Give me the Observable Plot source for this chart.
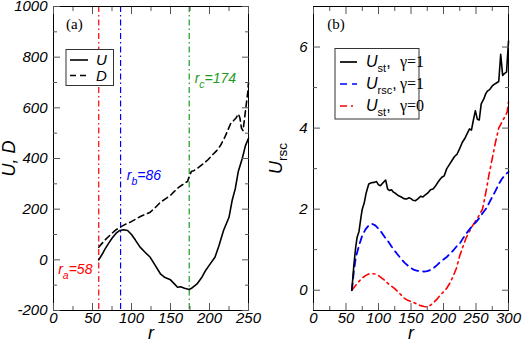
<!DOCTYPE html>
<html><head><meta charset="utf-8">
<script src="https://cdn.jsdelivr.net/npm/d3@7"></script>
<script src="https://cdn.jsdelivr.net/npm/@observablehq/plot@0.6"></script>
<style>
body{margin:0;background:#fff;}
#wrap{position:relative;width:523px;height:341px;overflow:hidden;background:#fff;}
#wrap > svg{position:absolute;top:0;}
</style></head><body><div id="wrap"></div>
<script>
// ---------- Panel (a) data ----------
const aR_U = [58,62,66,70,75,80,85,90,95,100,105,111,118,124,130,137,143,150,155,159,163,168,174,178,184,190,195,200,207,212,218,225,229,233,237,242,246,250];
const aU   = [0,20,42,62,85,104,116,119,116,100,78,50,28,10,-20,-55,-70,-79,-95,-108,-106,-112,-117,-110,-95,-70,-42,-20,10,55,116,168,234,280,350,400,450,480];
const aR_D = [58,65,70,75,80,86,92,98,105,112,118,124,130,137,143,150,155,160,167,172,174,177,180,186,192,198,204,209,214,219,224,227,231,234,237,239,241,243,245,247,249,250];
const aD   = [50,75,90,105,118,130,140,148,160,172,180,188,205,227,240,255,270,285,300,310,330,350,352,365,379,395,415,430,451,480,515,537,550,560,576,560,520,510,560,610,660,700];
const markerR = [58, 86, 174];
const markerColor = ["#ff0000", "#0000ff", "#1c9c1c"];
const markerLabel = ["ra=58", "rb=86", "rc=174"];
const markerLabelX = [6, 94, 181];
const markerLabelY = [-55, 315, 700];
const aXMajor = [0,50,100,150,200,250];
const aXMinor = [25,75,125,175,225];
const aYMajor = [-200,0,200,400,600,800,1000];
const aYMinor = [-100,100,300,500,700,900];

// ---------- Panel (b) data ----------
const bR_st1 = [59,62,65,67,70,73,75,78,81,85,89,93,97,100,103,107,111,114,117,120,123,127,131,135,139,143,147,150,153,157,161,165,168,172,176,180,184,188,193,197,201,205,209,213,217,221,225,229,233,236,240,243,246,249,252,255,258,262,265,268,271,275,278,282,285,288,291,294,297,300];
const bSt1   = [0,0.6,1.07,1.3,1.45,1.8,2.0,2.15,2.4,2.62,2.65,2.66,2.68,2.6,2.58,2.65,2.72,2.5,2.46,2.48,2.42,2.38,2.33,2.3,2.26,2.25,2.28,2.26,2.22,2.21,2.26,2.32,2.3,2.35,2.4,2.48,2.5,2.58,2.7,2.78,2.82,3.0,3.1,3.2,3.3,3.36,3.5,3.65,3.75,3.85,3.98,3.95,4.2,4.43,4.22,4.2,4.6,4.72,4.85,4.92,4.95,5.04,5.08,5.12,5.15,5.82,5.3,5.35,5.38,6.15];
const bR_rsc = [59,62,65,70,75,80,85,90,95,100,105,110,115,120,125,130,135,140,145,150,155,160,165,170,175,180,185,190,195,200,205,210,215,220,225,230,235,240,245,250,255,260,265,270,275,280,285,290,295,300];
const bRsc   = [0,0.45,0.8,1.1,1.35,1.5,1.6,1.64,1.6,1.52,1.42,1.3,1.2,1.08,0.97,0.87,0.77,0.68,0.61,0.55,0.5,0.48,0.47,0.46,0.47,0.5,0.55,0.62,0.7,0.76,0.82,0.9,0.98,1.08,1.15,1.28,1.4,1.5,1.6,1.68,1.78,1.9,2.0,2.15,2.3,2.45,2.62,2.75,2.85,2.92];
const bR_st0 = [59,65,70,75,80,85,90,95,100,105,110,115,120,125,130,135,140,145,150,155,160,165,170,175,180,185,190,195,200,205,210,215,220,225,230,235,240,245,250,255,260,265,270,275,280,285,290,295,298,300];
const bSt0   = [0,0.12,0.22,0.3,0.36,0.4,0.41,0.4,0.36,0.3,0.24,0.16,0.1,0.04,-0.04,-0.12,-0.2,-0.25,-0.28,-0.31,-0.35,-0.38,-0.4,-0.41,-0.37,-0.3,-0.22,-0.12,-0.04,0.05,0.18,0.35,0.55,0.85,1.08,1.3,1.45,1.6,1.72,1.85,2.0,2.4,2.85,3.25,3.65,4.0,4.15,4.3,4.4,4.65];
const bXMajor = [0,50,100,150,200,250,300];
const bXMinor = [25,75,125,175,225,275];
const bYMajor = [0,2,4,6];
const bYMinor = [1,3,5];

const zip = (xs, ys) => xs.map((x, i) => ({r: x, v: ys[i]}));
const H = 341;
const FONT = "'Liberation Sans', Arial, Helvetica, sans-serif";
const SERIF = "'Liberation Serif', 'Times New Roman', serif";
const TICK = "#555";
const fmt = d => String(d);
const blank = () => "";

function axes(xMaj, xMin, yMaj, yMin, xLabel, yLabel, yLabelOffset) {
  return [
    Plot.frame({stroke: "#000", strokeWidth: 1}),
    Plot.axisX({ticks: xMaj, anchor: "bottom", tickSize: -7, tickPadding: 9, stroke: TICK, tickFormat: fmt,
      label: xLabel, labelAnchor: "center", labelArrow: "none", labelOffset: 28}),
    Plot.axisX({ticks: xMin, anchor: "bottom", tickSize: -4, stroke: TICK, tickFormat: blank, label: null}),
    Plot.axisX({ticks: xMaj, anchor: "top", tickSize: -7, stroke: TICK, tickFormat: blank, label: null}),
    Plot.axisX({ticks: xMin, anchor: "top", tickSize: -4, stroke: TICK, tickFormat: blank, label: null}),
    Plot.axisY({ticks: yMaj, anchor: "left", tickSize: -7, tickPadding: 13, stroke: TICK, tickFormat: fmt,
      label: yLabel, labelAnchor: "center", labelArrow: "none", labelOffset: yLabelOffset}),
    Plot.axisY({ticks: yMin, anchor: "left", tickSize: -4, stroke: TICK, tickFormat: blank, label: null}),
    Plot.axisY({ticks: yMaj, anchor: "right", tickSize: -7, stroke: TICK, tickFormat: blank, label: null}),
    Plot.axisY({ticks: yMin, anchor: "right", tickSize: -4, stroke: TICK, tickFormat: blank, label: null})
  ];
}

const markers = markerR.map((r, i) => ({r, color: markerColor[i], label: markerLabel[i], lx: markerLabelX[i], ly: markerLabelY[i]}));

const plotA = Plot.plot({
  width: 260, height: H, marginLeft: 53, marginRight: 12, marginTop: 6, marginBottom: 31,
  x: {domain: [0, 250]}, y: {domain: [-200, 1000]},
  style: {fontFamily: FONT, fontSize: "15px", color: "#000", background: "transparent", overflow: "visible"},
  marks: [
    Plot.ruleX(markers, {x: "r", stroke: "color", strokeWidth: 1.2, strokeDasharray: "6,3,1.5,3"}),
    Plot.line(zip(aR_D, aD), {x: "r", y: "v", stroke: "#000", strokeWidth: 1.6, strokeDasharray: "6,4"}),
    Plot.line(zip(aR_U, aU), {x: "r", y: "v", stroke: "#000", strokeWidth: 1.6}),
    Plot.text(markers, {x: "lx", y: "ly", text: "label", fill: "color", textAnchor: "start", lineAnchor: "bottom", fontSize: 14, fontStyle: "italic"}),
    Plot.text(["(a)"], {x: 16, y: 912, text: d => d, textAnchor: "start", lineAnchor: "bottom", fontFamily: SERIF, fontSize: 15}),
    ...axes(aXMajor, aXMinor, aYMajor, aYMinor, "r", "U, D", 51)
  ]
});

const plotB = Plot.plot({
  width: 263, height: H, marginLeft: 53, marginRight: 15, marginTop: 6, marginBottom: 31,
  x: {domain: [0, 300]}, y: {domain: [-0.5, 7]},
  style: {fontFamily: FONT, fontSize: "15px", color: "#000", background: "transparent", overflow: "visible"},
  marks: [
    Plot.line(zip(bR_st0, bSt0), {x: "r", y: "v", stroke: "#ff0000", strokeWidth: 1.6, strokeDasharray: "7,4,2,4"}),
    Plot.line(zip(bR_rsc, bRsc), {x: "r", y: "v", stroke: "#0000ff", strokeWidth: 1.8, strokeDasharray: "7,5"}),
    Plot.line(zip(bR_st1, bSt1), {x: "r", y: "v", stroke: "#000", strokeWidth: 1.6}),
    Plot.text(["(b)"], {x: 21, y: 6.45, text: d => d, textAnchor: "start", lineAnchor: "bottom", fontFamily: SERIF, fontSize: 15}),
    ...axes(bXMajor, bXMinor, bYMajor, bYMinor, "r", "Ursc", 44)
  ]
});

const wrap = d3.select("#wrap");
wrap.node().appendChild(plotA);
wrap.node().appendChild(plotB);
d3.select(plotA).style("left", "0px");
d3.select(plotB).style("left", "260px");

// italic tick labels and axis labels
[plotA, plotB].forEach(svg => {
  d3.select(svg).selectAll('g[aria-label$="tick label"] text').attr("font-style", "italic");
  d3.select(svg).selectAll("text").filter(function () {
    return this.textContent === "r" || this.textContent === "U, D" || this.textContent === "Ursc";
  }).attr("font-size", 18).attr("font-style", "italic");
});

// rich text (subscripts)
function rich(svg, match, parts) {
  d3.select(svg).selectAll("text").filter(function () { return this.textContent === match; }).each(function () {
    const t = d3.select(this);
    t.text(null);
    let shift = 0;
    parts.forEach(([s, kind]) => {
      const sp = t.append("tspan").text(s);
      if (kind === "sub") {
        sp.attr("dy", 5 - shift).attr("font-size", "75%").attr("font-style", "normal");
        shift = 5;
      } else if (kind === "subi") {
        sp.attr("dy", 5 - shift).attr("font-size", "75%");
        shift = 5;
      } else {
        if (shift) sp.attr("dy", -shift);
        shift = 0;
      }
    });
  });
}
rich(plotA, "ra=58", [["r", ""], ["a", "subi"], ["=58", ""]]);
rich(plotA, "rb=86", [["r", ""], ["b", "subi"], ["=86", ""]]);
rich(plotA, "rc=174", [["r", ""], ["c", "subi"], ["=174", ""]]);
rich(plotB, "Ursc", [["U", ""], ["rsc", "sub"]]);

// legends (overlay)
const ov = wrap.append("svg").attr("width", 523).attr("height", 341).style("left", "0px")
  .style("font-family", FONT);
// legend (a)
ov.append("rect").attr("x", 66).attr("y", 49.5).attr("width", 47.5).attr("height", 36)
  .attr("fill", "#fff").attr("stroke", "#333").attr("stroke-width", 1);
const legA = [{lab: "U", dash: null, y: 60}, {lab: "D", dash: "6,4", y: 75.5}];
legA.forEach(d => {
  ov.append("line").attr("x1", 70).attr("x2", 88).attr("y1", d.y).attr("y2", d.y)
    .attr("stroke", "#000").attr("stroke-width", 1.6).attr("stroke-dasharray", d.dash);
  ov.append("text").attr("x", 96).attr("y", d.y + 5).attr("font-size", 15).attr("font-style", "italic").text(d.lab);
});
// legend (b)
ov.append("rect").attr("x", 335).attr("y", 48.5).attr("width", 84).attr("height", 70.5)
  .attr("fill", "#fff").attr("stroke", "#333").attr("stroke-width", 1);
const legB = [
  {sub: "st", g: "γ=1", color: "#000", dash: null, y: 62},
  {sub: "rsc", g: "γ=1", color: "#0000ff", dash: "7,5", y: 84},
  {sub: "st", g: "γ=0", color: "#ff0000", dash: "7,4,2,4", y: 106}
];
legB.forEach(d => {
  ov.append("line").attr("x1", 340).attr("x2", 357).attr("y1", d.y).attr("y2", d.y)
    .attr("stroke", d.color).attr("stroke-width", 1.7).attr("stroke-dasharray", d.dash);
  const t = ov.append("text").attr("x", 366).attr("y", d.y + 5).attr("font-size", 16);
  t.append("tspan").attr("font-style", "italic").text("U");
  t.append("tspan").attr("font-size", 11).attr("dy", 5).text(d.sub);
  t.append("tspan").attr("dy", -5).text(",");
  ov.append("text").attr("x", 400).attr("y", d.y + 5).attr("font-size", 16)
    .attr("font-family", SERIF).text(d.g);
});
</script>
</body></html>
